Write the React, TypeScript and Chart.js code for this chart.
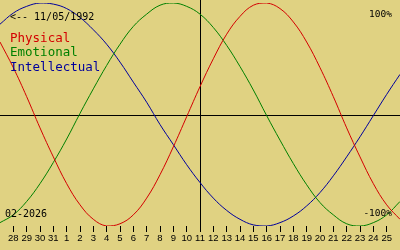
import { useEffect, useRef } from "react";
import { Chart, registerables } from "chart.js";

Chart.register(...registerables);

// Day labels shown under the tick marks (28 Jan .. 25 Feb)
const dayLabels = [
  "28", "29", "30", "31", "1", "2", "3", "4", "5", "6", "7", "8", "9", "10",
  "11", "12", "13", "14", "15", "16", "17", "18", "19", "20", "21", "22", "23", "24", "25",
];

// Values for each day slot (slot 0 = day before "28", slot 30 = day after "25")
const physical = [
  0.65, 0.42, 0.16, -0.12, -0.38, -0.62, -0.81, -0.94, -1.0, -0.98, -0.9, -0.75, -0.54, -0.29, -0.02,
  0.25, 0.5, 0.72, 0.88, 0.98, 1.0, 0.95, 0.83, 0.65, 0.42, 0.16, -0.12, -0.38, -0.62, -0.81, -0.94,
];
const emotional = [
  -0.97, -0.9, -0.78, -0.62, -0.43, -0.22, 0.01, 0.23, 0.44, 0.63, 0.79, 0.9, 0.98, 1.0, 0.97,
  0.9, 0.78, 0.62, 0.43, 0.22, -0.01, -0.23, -0.44, -0.63, -0.79, -0.9, -0.98, -1.0, -0.97, -0.9, -0.78,
];
const intellectual = [
  0.81, 0.91, 0.97, 1.0, 0.99, 0.95, 0.87, 0.76, 0.63, 0.47, 0.29, 0.11, -0.09, -0.27, -0.45,
  -0.61, -0.75, -0.86, -0.94, -0.99, -1.0, -0.97, -0.91, -0.82, -0.7, -0.55, -0.38, -0.2, -0.01, 0.18, 0.36,
];

const seriesNames = ["Physical", "Emotional", "Intellectual"];
const seriesColors = ["#d40000", "#008000", "#00009c"];
const birthText = "<-- 11/05/1992";
const monthText = "02-2026";
const topText = "100%";
const bottomText = "-100%";
const todaySlot = 15; // day "11"

const BG = "#e0d282";

const toPoints = (arr: number[]) => arr.map((v, i) => ({ x: i, y: v }));

export default function App() {
  const ref = useRef<HTMLCanvasElement | null>(null);

  useEffect(() => {
    if (!ref.current) return;

    const decor = {
      id: "decor",
      beforeDraw(chart: any) {
        const ctx = chart.ctx;
        ctx.save();
        ctx.fillStyle = BG;
        ctx.fillRect(0, 0, chart.width, chart.height);
        ctx.restore();
      },
      beforeDatasetsDraw(chart: any) {
        const ctx = chart.ctx;
        const xs = chart.scales.x;
        const ys = chart.scales.y;
        const ca = chart.chartArea;
        ctx.save();
        ctx.strokeStyle = "#000";
        ctx.lineWidth = 1;
        const y0 = Math.round(ys.getPixelForValue(0)) + 0.5;
        ctx.beginPath();
        ctx.moveTo(0, y0);
        ctx.lineTo(chart.width, y0);
        ctx.stroke();
        const xt = Math.round(xs.getPixelForValue(todaySlot)) + 0.5;
        ctx.beginPath();
        ctx.moveTo(xt, 0);
        ctx.lineTo(xt, ca.bottom + 4);
        ctx.stroke();
        ctx.restore();
      },
      afterDraw(chart: any) {
        const ctx = chart.ctx;
        ctx.save();
        ctx.textBaseline = "alphabetic";
        ctx.fillStyle = "#000";
        ctx.font = "10px 'DejaVu Sans Mono'";
        ctx.textAlign = "left";
        ctx.fillText(birthText, 10, 20);
        ctx.fillText(monthText, 5, 217);
        ctx.textAlign = "right";
        ctx.font = "9.5px 'DejaVu Sans Mono'";
        ctx.fillText(topText, 392, 17);
        ctx.fillText(bottomText, 392, 216);
        ctx.textAlign = "left";
        ctx.font = "12.5px 'DejaVu Sans Mono'";
        const baselines = [42, 56, 71];
        seriesNames.forEach((n, i) => {
          ctx.fillStyle = seriesColors[i];
          ctx.fillText(n, 10, baselines[i]);
        });
        ctx.restore();
      },
    };

    const chart = new Chart(ref.current, {
      type: "line",
      data: {
        datasets: [physical, emotional, intellectual].map((arr, i) => ({
          label: seriesNames[i],
          data: toPoints(arr),
          borderColor: seriesColors[i],
          borderWidth: 1,
          pointRadius: 0,
          tension: 0.4,
          fill: false,
        })),
      },
      options: {
        animation: false,
        responsive: false,
        devicePixelRatio: 1,
        layout: { padding: { top: 3, left: 0, right: 0, bottom: 0 } },
        plugins: { legend: { display: false }, tooltip: { enabled: false } },
        scales: {
          x: {
            type: "linear",
            min: 0,
            max: dayLabels.length + 1,
            afterBuildTicks: (scale: any) => {
              scale.ticks = dayLabels.map((_, i) => ({ value: i + 1 }));
            },
            afterFit: (scale: any) => {
              scale.height = 24;
            },
            border: { display: false },
            grid: {
              display: true,
              drawOnChartArea: false,
              drawTicks: true,
              tickLength: 6,
              tickColor: "#000",
              tickWidth: 1,
            },
            ticks: {
              autoSkip: false,
              maxRotation: 0,
              padding: 1,
              color: "#000",
              font: { family: "'Liberation Sans'", size: 9.5 },
              callback: (v: any) => dayLabels[Number(v) - 1] ?? "",
            },
          },
          y: {
            display: false,
            min: -1,
            max: 1,
          },
        },
      },
      plugins: [decor],
    });

    return () => chart.destroy();
  }, []);

  return (
    <div style={{ position: "absolute", left: 0, top: 0, width: 400, height: 250 }}>
      <canvas ref={ref} width={400} height={250} />
    </div>
  );
}
